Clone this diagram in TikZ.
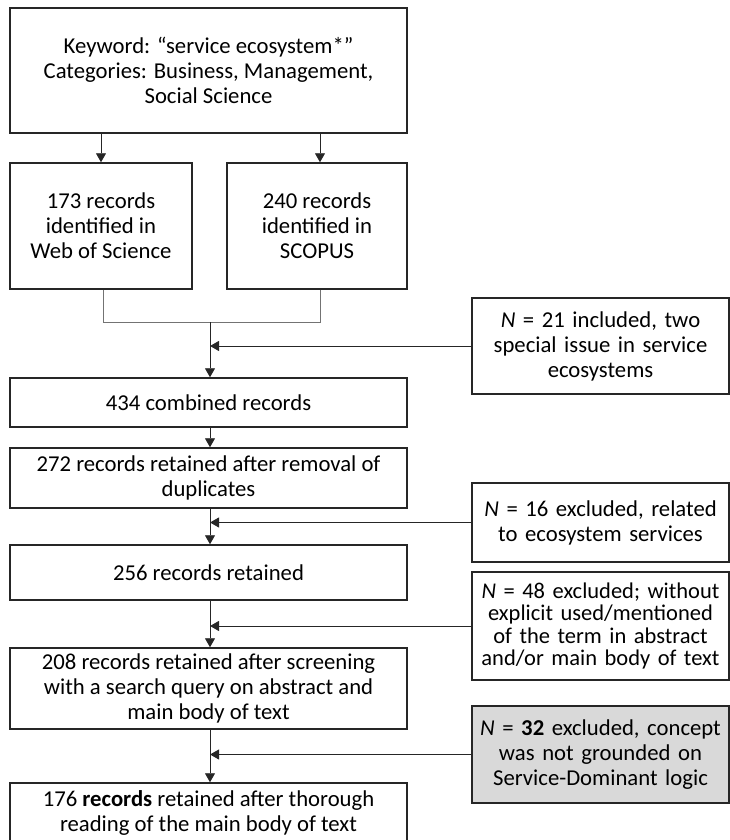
\documentclass[tikz,border=0pt]{standalone}
\usepackage{fontspec}
\setmainfont{Carlito}
\usetikzlibrary{arrows.meta}
\begin{document}
\begin{tikzpicture}[
  x=1pt, y=-1pt,
  box/.style={rectangle, draw=black!85, line width=1.5pt, inner sep=0pt, align=center,
    font=\fontsize{22.7}{25}\selectfont},
  sidebox/.style={box, minimum width=257, text width=250},
  arr/.style={-{Triangle[length=9pt,width=10pt]}, line width=0.9pt, black!85},
  link/.style={line width=0.9pt, black!55}
]
\useasboundingbox (0,0) rectangle (730,840);

% search and sources
\node[box, minimum width=397, minimum height=125] (keyword) at (208.5,70.5)
  {Keyword: “service ecosystem*”\\Categories: Business, Management,\\Social Science};
\node[box, minimum width=182, minimum height=126] (wos) at (101,226)
  {173 records\\identified in\\Web of Science};
\node[box, minimum width=180, minimum height=126] (scopus) at (317,226)
  {240 records\\identified in\\SCOPUS};
\coordinate (join) at (210,322);

% main flow
\node[box, minimum width=397, minimum height=49] (combined) at (208.5,402.5) {434 combined records};
\node[box, minimum width=397, minimum height=60] (dedup) at (208.5,478)
  {272 records retained after removal of\\duplicates};
\node[box, minimum width=397, minimum height=55] (retained) at (208.5,572.5) {256 records retained};
\node[box, minimum width=397, minimum height=81] (screened) at (208.5,688.5)
  {208 records retained after screening\\with a search query on abstract and\\main body of text};
\node[box, minimum width=397, minimum height=59] (final) at (208.5,812.5)
  {176 \textbf{records} retained after thorough\\reading of the main body of text};

% side boxes
\node[sidebox, minimum height=96] (incl) at (600.5,346)
  {\textit{N} = 21 included, two\\special issue in service\\ecosystems};
\node[sidebox, minimum height=79] (exclA) at (600.5,522.5)
  {\textit{N} = 16 excluded, related\\to ecosystem services};
\node[sidebox, minimum height=108, font=\fontsize{22.5}{22.5}\selectfont] (exclB) at (600.5,626)
  {\textit{N} = 48 excluded; without\\explicit used/mentioned\\of the term in abstract\\and/or main body of text};
\node[sidebox, minimum height=97, fill=black!15] (exclC) at (600.5,754.5)
  {\textit{N} = \textbf{32} excluded, concept\\was not grounded on\\Service-Dominant logic};

\draw[arr] (keyword.south -| wos) -- (wos.north);
\draw[arr] (keyword.south -| 320,0) -- (scopus.north -| 320,0);
\draw[link] (wos.south -| 103,0) |- (join);
\draw[link] (scopus.south -| 320,0) |- (join);
\draw[arr] (join) -- (combined.north -| join);
\draw[arr] (combined.south -| join) -- (dedup.north -| join);
\draw[arr] (dedup.south -| join) -- (retained.north -| join);
\draw[arr] (retained.south -| join) -- (screened.north -| join);
\draw[arr] (screened.south -| join) -- (final.north -| join);

\draw[arr] (incl.west) -- (incl.west -| join);
\draw[arr] (exclA.west) -- (exclA.west -| join);
\draw[arr] (exclB.west) -- (exclB.west -| join);
\draw[arr] (exclC.west) -- (exclC.west -| join);
\end{tikzpicture}
\end{document}
